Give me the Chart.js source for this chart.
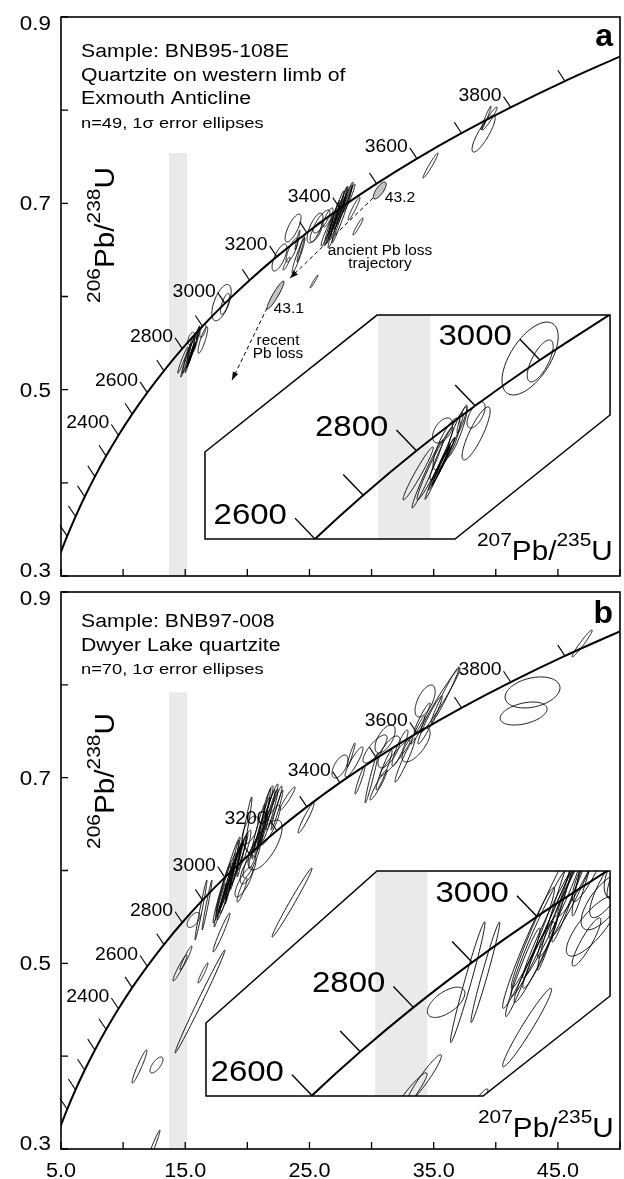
<!DOCTYPE html>
<html>
<head>
<meta charset="utf-8">
<script src="https://cdn.jsdelivr.net/npm/chart.js@4.4.1/dist/chart.umd.min.js"></script>
<style>
  body { margin: 0; background: #fff; }
  .wrap { position: absolute; left: 0; width: 624px; }
  #wrapA { top: 0; height: 585px; }
  #wrapB { top: 585px; height: 594px; }
</style>
</head>
<body>
<div class="wrap" id="wrapA"><canvas id="chartA" width="624" height="585"></canvas></div>
<div class="wrap" id="wrapB"><canvas id="chartB" width="624" height="594"></canvas></div>
<script>
// Concordia: age (Ma), 207Pb/235U, 206Pb/238U
const concAges = [1800, 1900, 2000, 2100, 2200, 2300, 2400, 2500, 2600, 2700, 2800, 2900, 3000, 3100, 3200, 3300, 3400, 3500, 3600, 3700, 3800, 3900, 4000];
const concX = [4.887, 5.496, 6.169, 6.911, 7.729, 8.633, 9.629, 10.730, 11.944, 13.284, 14.762, 16.393, 18.193, 20.180, 22.371, 24.790, 27.459, 30.405, 33.656, 37.243, 41.201, 45.568, 50.387];
const concY = [0.3221, 0.3428, 0.3638, 0.3851, 0.4067, 0.4287, 0.4511, 0.4738, 0.4968, 0.5202, 0.5440, 0.5681, 0.5926, 0.6175, 0.6428, 0.6685, 0.6946, 0.7211, 0.7480, 0.7753, 0.8030, 0.8312, 0.8599];

const tickAges = [1900, 2000, 2100, 2200, 2300, 2400, 2500, 2600, 2700, 2800, 2900, 3000, 3100, 3200, 3300, 3400, 3500, 3600, 3700, 3800, 3900];
const labelAges = [2400, 2600, 2800, 3000, 3200, 3400, 3600, 3800];
const insetAges = [2500, 2600, 2700, 2800, 2900, 3000, 3100];
const insetTickAges = [2600, 2700, 2800, 2900, 3000];
const insetLabelAges = [2600, 2800, 3000];

// axes
const xTickValues = [5, 10, 15, 20, 25, 30, 35, 40, 45, 50];
const xLabelValues = [5, 15, 25, 35, 45];
const xTickLabels = ['5.0', '15.0', '25.0', '35.0', '45.0'];
const yTickValues = [0.3, 0.4, 0.5, 0.6, 0.7, 0.8, 0.9];
const yLabelValues = [0.3, 0.5, 0.7, 0.9];
const yTickLabels = ['0.3', '0.5', '0.7', '0.9'];

// grey band (207Pb/235U range)
const bandX = [13.7, 15.15];

// inset frames, in main-plot coordinates
const insetFrameA = [[16.59, 0.4331], [30.44, 0.5801], [49.2, 0.5801], [49.2, 0.4728], [36.72, 0.3397], [16.59, 0.3397]];
const insetFrameB = [[16.67, 0.4357], [30.44, 0.5995], [49.2, 0.5995], [49.2, 0.4648], [38.98, 0.3571], [16.67, 0.3571]];

// error ellipses: [207Pb/235U, 206Pb/238U, sigma x, sigma y, rho]
const ellipseA = [
  // ~2800-3000 Ma
  [17.92, 0.5934, 0.78, 0.0195, 0.60],
  [18.20, 0.5921, 0.36, 0.0112, 0.70],
  [16.42, 0.5632, 0.25, 0.0070, 0.60],
  [16.42, 0.5533, 0.39, 0.0142, 0.85],
  [14.81, 0.5319, 0.42, 0.0142, 0.97],
  [15.07, 0.5316, 0.43, 0.0182, 0.98],
  [15.28, 0.5372, 0.50, 0.0195, 0.97],
  [15.60, 0.5463, 0.46, 0.0179, 0.95],
  [15.60, 0.5477, 0.375, 0.0139, 0.80],
  [15.89, 0.5541, 0.28, 0.0134, 0.90],
  [15.40, 0.5350, 0.30, 0.0120, 0.99],
  [15.50, 0.5380, 0.32, 0.0130, 0.99],
  [15.35, 0.5330, 0.35, 0.0150, 0.99],
  [15.55, 0.5400, 0.28, 0.0110, 0.98],
  [15.45, 0.5360, 0.25, 0.0100, 0.99],
  [15.49, 0.5549, 0.28, 0.0067, 0.50],
  [16.03, 0.5610, 0.14, 0.0075, 0.90],
  // ~3100-3900 Ma
  [22.59, 0.6418, 0.60, 0.0145, 0.70],
  [23.68, 0.6735, 0.64, 0.0150, 0.75],
  [23.60, 0.6499, 0.48, 0.0129, 0.80],
  [24.04, 0.6606, 0.20, 0.0107, 0.95],
  [24.12, 0.6440, 0.52, 0.0188, 0.95],
  [24.32, 0.6520, 0.32, 0.0150, 0.97],
  [23.16, 0.6354, 0.28, 0.0070, 0.90],
  [25.97, 0.6805, 0.68, 0.0123, 0.80],
  [28.59, 0.6944, 0.48, 0.0123, 0.95],
  [28.91, 0.6751, 0.40, 0.0091, 0.95],
  [25.37, 0.6161, 0.32, 0.0070, 0.97],
  [25.45, 0.6735, 0.64, 0.0160, 0.70],
  [25.53, 0.6692, 0.48, 0.0107, 0.70],
  [26.50, 0.6848, 0.40, 0.0102, 0.80],
  [34.75, 0.7406, 0.60, 0.0134, 0.97],
  [39.50, 0.7910, 0.60, 0.0123, 0.95],
  [39.02, 0.7749, 0.93, 0.0199, 0.85],
  [39.22, 0.7916, 0.40, 0.0129, 0.97],
  // dense ~3400 Ma group
  [26.90, 0.6800, 0.56, 0.0236, 0.97],
  [27.14, 0.6875, 0.64, 0.0258, 0.97],
  [27.38, 0.6907, 0.64, 0.0268, 0.98],
  [27.54, 0.6950, 0.56, 0.0236, 0.98],
  [27.79, 0.6982, 0.64, 0.0215, 0.97],
  [26.66, 0.6735, 0.48, 0.0193, 0.96],
  [27.22, 0.6800, 0.72, 0.0279, 0.97],
  [27.95, 0.7036, 0.56, 0.0193, 0.97],
  [26.42, 0.6692, 0.48, 0.0150, 0.95],
  [27.62, 0.6875, 0.81, 0.0300, 0.98],
  [28.19, 0.7057, 0.48, 0.0150, 0.96],
  [26.98, 0.6842, 0.40, 0.0172, 0.98]
];
// grains 43.1 and 43.2 (shaded)
const shadedA = [
  [22.27, 0.6016, 0.68, 0.0150, 0.93],
  [30.66, 0.7138, 0.52, 0.0091, 0.75]
];
const shadedLabels = ['43.1', '43.2'];

// Pb-loss trajectories (panel a)
const recentLossX = [21.59, 18.77];
const recentLossY = [0.5877, 0.5104];
const ancientLossX = [30.12, 23.44];
const ancientLossY = [0.7057, 0.6198];

const ellipseB = [
  // ~3000-3100 Ma
  [17.96, 0.5758, 0.72, 0.0323, 0.97],
  [18.28, 0.5844, 0.81, 0.0345, 0.97],
  [18.61, 0.5919, 0.81, 0.0323, 0.98],
  [18.93, 0.6006, 0.72, 0.0302, 0.97],
  [19.25, 0.6092, 0.72, 0.0280, 0.96],
  [18.45, 0.5952, 0.97, 0.0409, 0.98],
  [19.41, 0.6167, 0.64, 0.0237, 0.95],
  [18.12, 0.5682, 0.56, 0.0215, 0.96],
  [19.73, 0.6221, 0.56, 0.0215, 0.90],
  [19.73, 0.5876, 0.72, 0.0162, 0.80],
  [19.77, 0.6361, 0.60, 0.0431, 0.97],
  [17.80, 0.5628, 0.48, 0.0237, 0.97],
  [18.77, 0.5984, 0.56, 0.0345, 0.98],
  [19.09, 0.6049, 0.48, 0.0259, 0.97],
  [18.28, 0.5736, 0.48, 0.0194, 0.95],
  [19.57, 0.5790, 0.40, 0.0129, 0.90],
  // ~3150-3300 Ma
  [21.43, 0.6275, 1.37, 0.0269, 0.70],
  [21.18, 0.6490, 0.64, 0.0302, 0.97],
  [21.51, 0.6544, 0.72, 0.0323, 0.97],
  [21.83, 0.6598, 0.64, 0.0280, 0.96],
  [22.15, 0.6673, 0.64, 0.0237, 0.96],
  [21.02, 0.6383, 0.64, 0.0259, 0.95],
  [22.39, 0.6652, 0.48, 0.0215, 0.97],
  [23.24, 0.6776, 0.60, 0.0124, 0.95],
  [21.67, 0.6760, 0.40, 0.0151, 0.90],
  [20.62, 0.6221, 0.48, 0.0194, 0.90],
  [20.22, 0.6436, 0.64, 0.0151, 0.60],
  [20.86, 0.6436, 0.56, 0.0280, 0.97],
  [21.34, 0.6566, 0.56, 0.0323, 0.98],
  [21.83, 0.6490, 0.81, 0.0215, 0.85],
  [21.99, 0.6760, 0.48, 0.0172, 0.95],
  [20.38, 0.6135, 0.72, 0.0215, 0.85],
  [20.06, 0.6006, 0.64, 0.0151, 0.70],
  [24.73, 0.6566, 0.64, 0.0162, 0.95],
  // discordant grains
  [23.60, 0.5655, 1.61, 0.0372, 0.99],
  [17.92, 0.5332, 0.68, 0.0210, 0.97],
  [16.27, 0.5575, 0.48, 0.0323, 0.98],
  [16.76, 0.5628, 0.40, 0.0269, 0.98],
  [15.67, 0.5467, 0.52, 0.0081, 0.60],
  [16.43, 0.4896, 0.40, 0.0108, 0.95],
  [14.58, 0.4950, 0.56, 0.0140, 0.95],
  [15.06, 0.5058, 0.48, 0.0129, 0.95],
  [16.19, 0.4589, 2.01, 0.0555, 0.995],
  [11.32, 0.3889, 0.60, 0.0178, 0.95],
  [12.69, 0.3905, 0.52, 0.0086, 0.70],
  [12.33, 0.2989, 0.64, 0.0215, 0.98],
  // ~3400-3900 Ma
  [27.46, 0.7120, 0.64, 0.0124, 0.60],
  [28.59, 0.7169, 0.72, 0.0162, 0.90],
  [30.28, 0.7309, 0.97, 0.0151, 0.80],
  [31.09, 0.7417, 0.81, 0.0151, 0.60],
  [30.00, 0.6997, 0.52, 0.0269, 0.97],
  [31.41, 0.7277, 0.89, 0.0172, 0.70],
  [31.89, 0.7212, 1.21, 0.0194, 0.95],
  [30.56, 0.6921, 0.68, 0.0162, 0.95],
  [33.58, 0.7352, 1.13, 0.0183, 0.70],
  [34.31, 0.7826, 0.81, 0.0172, 0.60],
  [35.52, 0.7831, 1.61, 0.0350, 0.98],
  [35.92, 0.7891, 1.13, 0.0302, 0.98],
  [34.07, 0.7643, 0.64, 0.0162, 0.95],
  [33.74, 0.7514, 0.56, 0.0151, 0.95],
  [32.70, 0.7190, 0.81, 0.0237, 0.96],
  [28.35, 0.7244, 0.32, 0.0129, 0.95],
  [31.01, 0.7083, 0.64, 0.0215, 0.95],
  [32.29, 0.7320, 0.64, 0.0194, 0.90],
  [29.07, 0.6975, 0.40, 0.0151, 0.95],
  [34.71, 0.7621, 0.97, 0.0259, 0.96],
  [42.96, 0.7918, 2.21, 0.0167, 0.30],
  [42.24, 0.7691, 1.89, 0.0124, 0.40],
  [46.95, 0.8446, 0.81, 0.0145, 0.97]
];

const sampleA = ['Sample: BNB95-108E', 'Quartzite on western limb of', 'Exmouth Anticline', 'n=49, 1\u03c3 error ellipses'];
const sampleB = ['Sample: BNB97-008', 'Dwyer Lake quartzite', 'n=70, 1\u03c3 error ellipses'];

const FONT = '"Liberation Sans", Arial, Helvetica, sans-serif';
const BAND = '#e9eaec';

function txt(ctx, s, x, y, size, opts = {}) {
  ctx.save();
  ctx.font = (opts.bold ? 'bold ' : '') + size + 'px ' + FONT;
  ctx.fillStyle = '#000';
  ctx.textBaseline = 'alphabetic';
  ctx.textAlign = opts.align || 'left';
  ctx.translate(x, y);
  ctx.scale(opts.stretch || 1, 1);
  ctx.fillText(s, 0, 0);
  ctx.restore();
}

// isotope ratio label with superscripts, drawn from (x, y) along the text direction
function isoLabel(ctx, parts, x, y, rotate, center) {
  const stretch = 1.1;
  ctx.save();
  let total = 0;
  parts.forEach(([s, sup]) => { ctx.font = (sup ? 19 : 27) + 'px ' + FONT; total += ctx.measureText(s).width; });
  ctx.translate(x, y);
  if (rotate) ctx.rotate(rotate);
  ctx.scale(stretch, 1);
  let cx = center ? -total / 2 : 0;
  ctx.fillStyle = '#000';
  parts.forEach(([s, sup]) => {
    ctx.font = (sup ? 19 : 27) + 'px ' + FONT;
    ctx.fillText(s, cx, sup ? -14 : 0);
    cx += ctx.measureText(s).width;
  });
  ctx.restore();
}

function ellipsePath(ctx, xs, ys, e) {
  const [cx, cy, sx, sy, r] = e;
  const q = Math.sqrt(1 - r * r);
  ctx.beginPath();
  for (let i = 0; i <= 90; i++) {
    const t = i / 90 * Math.PI * 2;
    const px = xs.getPixelForValue(cx + sx * Math.cos(t));
    const py = ys.getPixelForValue(cy + sy * (r * Math.cos(t) + q * Math.sin(t)));
    if (i) ctx.lineTo(px, py); else ctx.moveTo(px, py);
  }
  ctx.closePath();
}

function framePath(ctx, chart, frame) {
  const { x, y } = chart.scales;
  ctx.beginPath();
  frame.forEach(([fx, fy], i) => {
    const px = x.getPixelForValue(fx), py = y.getPixelForValue(fy);
    if (i) ctx.lineTo(px, py); else ctx.moveTo(px, py);
  });
  ctx.closePath();
}

function concTicks(ctx, xs, ys, area, ages, labels, dir, len, size, stretch, off) {
  ctx.save();
  ctx.strokeStyle = '#000';
  ctx.lineWidth = len > 20 ? 1.4 : 1.1;
  ages.forEach(age => {
    const i = concAges.indexOf(age);
    const px = xs.getPixelForValue(concX[i]), py = ys.getPixelForValue(concY[i]);
    if (px < area.left || py > area.bottom) return;
    const ex = px + dir[0] * len, ey = py + dir[1] * len;
    ctx.beginPath(); ctx.moveTo(px, py); ctx.lineTo(ex, ey); ctx.stroke();
    if (labels.includes(age)) txt(ctx, String(age), ex + off[0], ey + off[1], size, { align: 'right', stretch });
  });
  ctx.restore();
}

function arrowHead(ctx, x0, y0, x1, y1) {
  const a = Math.atan2(y1 - y0, x1 - x0);
  ctx.beginPath();
  ctx.moveTo(x1, y1);
  ctx.lineTo(x1 - 8 * Math.cos(a) + 3 * Math.sin(a), y1 - 8 * Math.sin(a) - 3 * Math.cos(a));
  ctx.lineTo(x1 - 8 * Math.cos(a) - 3 * Math.sin(a), y1 - 8 * Math.sin(a) + 3 * Math.cos(a));
  ctx.closePath();
  ctx.fill();
}

function panelPlugin(P) {
  return {
    id: 'panel' + P.letter,
    beforeDatasetsDraw(chart) {
      const { ctx, chartArea: a, scales: { x, y, xi } } = chart;
      ctx.save();
      ctx.fillStyle = BAND;
      const b0 = x.getPixelForValue(bandX[0]), b1 = x.getPixelForValue(bandX[1]);
      const bt = y.getPixelForValue(P.bandTop);
      ctx.fillRect(b0, bt, b1 - b0, a.bottom - bt);
      framePath(ctx, chart, P.frame);
      ctx.fillStyle = '#fff';
      ctx.fill();
      ctx.clip();
      const i0 = xi.getPixelForValue(bandX[0]), i1 = xi.getPixelForValue(bandX[1]);
      ctx.fillStyle = BAND;
      ctx.fillRect(i0, a.top, i1 - i0, a.bottom - a.top);
      ctx.restore();
    },
    beforeDatasetDraw(chart, args) {
      if (args.index === 1) {
        chart.ctx.save();
        framePath(chart.ctx, chart, P.frame);
        chart.ctx.clip();
      }
    },
    afterDatasetDraw(chart, args) {
      if (args.index === 1) chart.ctx.restore();
    },
    afterDatasetsDraw(chart) {
      const { ctx, chartArea: a, scales: { x, y, xi, yi } } = chart;

      concTicks(ctx, x, y, a, tickAges, labelAges, [-0.55, -0.83], 13, 19, 1.02, [-2, 4]);

      ctx.save();
      ctx.beginPath(); ctx.rect(a.left, a.top, a.right - a.left, a.bottom - a.top); ctx.clip();
      ctx.strokeStyle = '#000';
      ctx.lineWidth = 0.9;
      P.ellipses.forEach(e => { ellipsePath(ctx, x, y, e); ctx.stroke(); });
      (P.shaded || []).forEach((e, k) => {
        ellipsePath(ctx, x, y, e);
        ctx.fillStyle = '#c4c4c4'; ctx.fill(); ctx.stroke();
        const [dx, dy] = P.shadedOff[k];
        txt(ctx, shadedLabels[k], x.getPixelForValue(e[0]) + dx, y.getPixelForValue(e[1]) + dy, 14, { stretch: 1.12 });
      });
      ctx.fillStyle = '#000';
      (P.trails || []).forEach(([tx, ty]) => {
        const n = tx.length - 1;
        arrowHead(ctx, x.getPixelForValue(tx[n - 1]), y.getPixelForValue(ty[n - 1]), x.getPixelForValue(tx[n]), y.getPixelForValue(ty[n]));
      });
      (P.notes || []).forEach(([lines, nx, ny]) => {
        lines.forEach((s, k) => txt(ctx, s, x.getPixelForValue(nx), y.getPixelForValue(ny) + k * 13, 14, { align: 'center', stretch: 1.1 }));
      });
      ctx.restore();

      // inset
      ctx.save();
      framePath(ctx, chart, P.frame);
      ctx.clip();
      concTicks(ctx, xi, yi, a, insetTickAges, insetLabelAges, [-0.69, -0.72], 29, 30, 1.1, [-8, 6]);
      ctx.strokeStyle = '#000';
      ctx.lineWidth = 0.9;
      P.ellipses.forEach(e => { ellipsePath(ctx, xi, yi, e); ctx.stroke(); });
      ctx.restore();
      ctx.save();
      framePath(ctx, chart, P.frame);
      ctx.strokeStyle = '#000';
      ctx.lineWidth = 1.5;
      ctx.stroke();
      ctx.restore();

      // sample text
      P.sample.forEach((s, k) => txt(ctx, s, a.left + 20, a.top + P.sampleBase[k], k === P.sample.length - 1 ? 15.5 : 18, { stretch: 1.18 }));
      txt(ctx, P.letter, a.right - 7, a.top + P.letterBase, 32, { bold: true, align: 'right' });

      // axis titles
      isoLabel(ctx, [['207', true], ['Pb/', false], ['235', true], ['U', false]], a.left + P.xTitle[0], a.bottom + P.xTitle[1], 0, false);
      isoLabel(ctx, [['206', true], ['Pb/', false], ['238', true], ['U', false]], a.left + 53, a.top + P.yTitleCenter, -Math.PI / 2, true);

      // frame and inward ticks
      ctx.save();
      ctx.strokeStyle = '#000';
      ctx.lineWidth = 1.6;
      ctx.strokeRect(a.left, a.top, a.right - a.left, a.bottom - a.top);
      ctx.lineWidth = 1.3;
      ctx.beginPath();
      xTickValues.forEach(v => { const px = x.getPixelForValue(v); ctx.moveTo(px, a.bottom); ctx.lineTo(px, a.bottom - 7); });
      yTickValues.forEach(v => { const py = y.getPixelForValue(v); ctx.moveTo(a.left, py); ctx.lineTo(a.left + 7, py); });
      ctx.stroke();
      ctx.restore();
      yLabelValues.forEach((v, k) => {
        const py = Math.min(Math.max(y.getPixelForValue(v), a.top + 6), a.bottom - 6);
        txt(ctx, yTickLabels[k], a.left - 10, py + 7, 20, { align: 'right', stretch: 1.12 });
      });
      if (P.showX) {
        xLabelValues.forEach((v, k) => txt(ctx, xTickLabels[k], x.getPixelForValue(v), a.bottom + 28, 20, { align: 'center', stretch: 1.08 }));
      }
    }
  };
}

function buildChart(id, P) {
  const datasets = [
    {
      data: concAges.map((t, i) => ({ x: concX[i], y: concY[i] })),
      showLine: true, borderColor: '#000', borderWidth: 2, pointRadius: 0,
      cubicInterpolationMode: 'monotone'
    },
    {
      data: insetAges.map(t => { const i = concAges.indexOf(t); return { x: concX[i], y: concY[i] }; }),
      xAxisID: 'xi', yAxisID: 'yi',
      showLine: true, borderColor: '#000', borderWidth: 2, pointRadius: 0,
      cubicInterpolationMode: 'monotone'
    }
  ];
  (P.trails || []).forEach(([tx, ty]) => datasets.push({
    data: tx.map((v, i) => ({ x: v, y: ty[i] })),
    showLine: true, borderColor: '#000', borderWidth: 1, borderDash: [4, 3], pointRadius: 0
  }));

  return new Chart(document.getElementById(id), {
    type: 'scatter',
    data: { datasets },
    options: {
      responsive: false,
      animation: false,
      devicePixelRatio: 1,
      events: [],
      layout: { padding: { top: P.padTop, right: 4, left: 0, bottom: 0 } },
      plugins: { legend: { display: false }, tooltip: { enabled: false } },
      scales: {
        x: {
          type: 'linear', min: 5, max: 50,
          grid: { display: false }, border: { display: false }, ticks: { display: false },
          afterFit: s => { s.height = P.xAxisH; }
        },
        y: {
          type: 'linear', min: 0.3, max: 0.9,
          grid: { display: false }, border: { display: false }, ticks: { display: false },
          afterFit: s => { s.width = 61; }
        },
        xi: { type: 'linear', display: false, position: 'bottom', min: P.insetX[0], max: P.insetX[1] },
        yi: { type: 'linear', display: false, position: 'left', min: P.insetY[0], max: P.insetY[1] }
      }
    },
    plugins: [panelPlugin(P)]
  });
}

buildChart('chartA', {
  letter: 'a', padTop: 17, xAxisH: 9, showX: false,
  insetX: [4.889, 20.417], insetY: [0.4770, 0.7762],
  frame: insetFrameA, bandTop: 0.754,
  ellipses: ellipseA, shaded: shadedA, shadedOff: [[-2, 18], [5, 12]],
  trails: [[recentLossX, recentLossY], [ancientLossX, ancientLossY]],
  notes: [[['recent', 'Pb loss'], 22.47, 0.548], [['ancient Pb loss', 'trajectory'], 30.68, 0.6445]],
  sample: sampleA, sampleBase: [40, 64, 87, 111],
  letterBase: 29, xTitle: [416, -16], yTitleCenter: 218
});

buildChart('chartB', {
  letter: 'b', padTop: 7, xAxisH: 30, showX: true,
  insetX: [4.973, 20.50], insetY: [0.4682, 0.7663],
  frame: insetFrameB, bandTop: 0.792,
  ellipses: ellipseB,
  sample: sampleB, sampleBase: [35, 59, 82],
  letterBase: 31, xTitle: [417, -12], yTitleCenter: 189
});
</script>
</body>
</html>
